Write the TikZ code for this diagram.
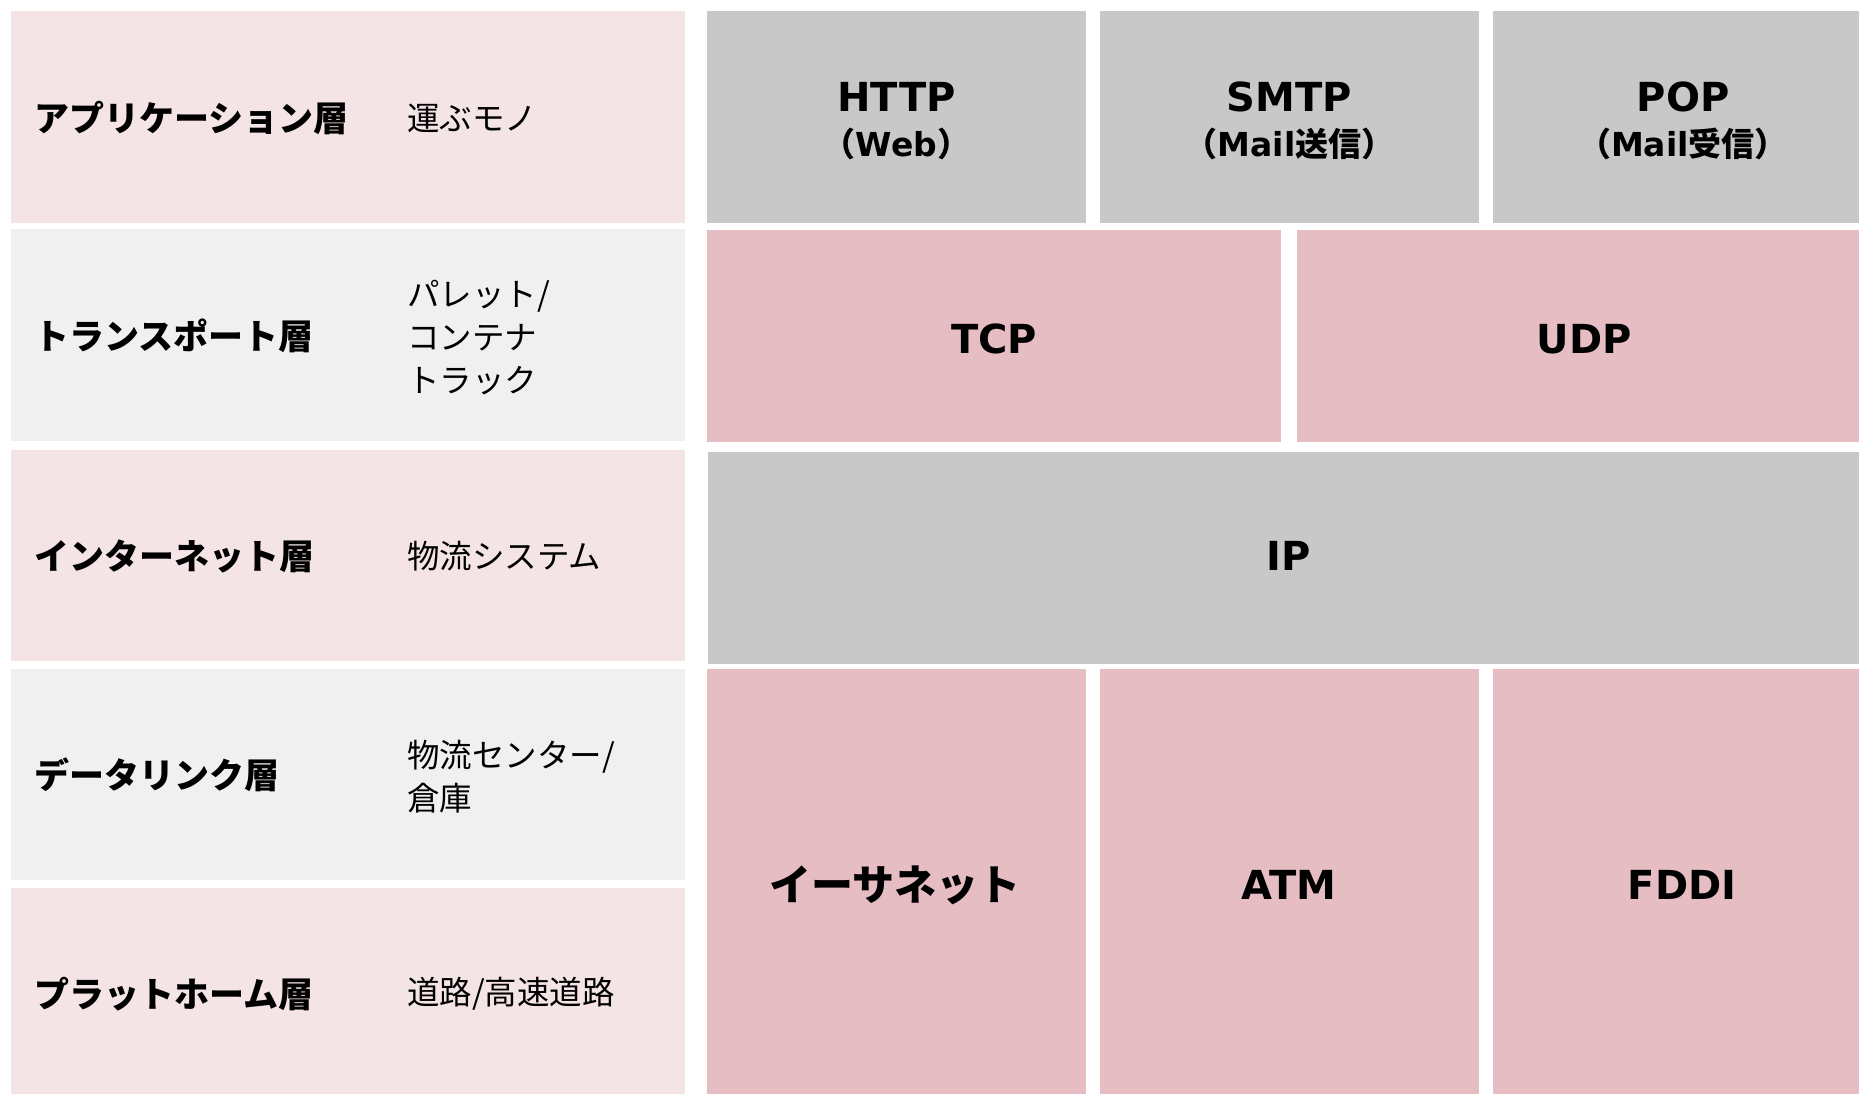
\documentclass[tikz,border=0pt]{standalone}
\usepackage{fontspec}
\setmainfont{DejaVu Sans}
\newfontfamily\jp{Noto Sans CJK JP}
\newfontfamily\lat{DejaVu Sans}
\definecolor{lpink}{RGB}{244,228,230}
\definecolor{lgrey}{RGB}{240,240,240}
\definecolor{rgrey}{RGB}{200,200,200}
\definecolor{rpink}{RGB}{229,189,194}
\begin{document}
\begin{tikzpicture}[x=1pt,y=-1pt,
  cell/.style={rectangle,draw=none,inner sep=0pt,outer sep=0pt,anchor=north west},
  lp/.style={cell,fill=lpink,minimum width=674pt},
  lg/.style={cell,fill=lgrey,minimum width=674pt},
  rg/.style={cell,fill=rgrey},
  rp/.style={cell,fill=rpink},
  lab/.style={anchor=west,inner sep=0pt,font=\jp\bfseries\fontsize{35}{40}\selectfont},
  desc/.style={anchor=west,inner sep=0pt,align=left,font=\jp\fontsize{32.5}{43}\selectfont},
  big/.style={inner sep=0pt,font=\lat\bfseries\fontsize{40}{48}\selectfont},
  bigjp/.style={inner sep=0pt,font=\jp\bfseries\fontsize{42}{48}\selectfont},
  sub/.style={inner sep=0pt,font=\bfseries\fontsize{33}{40}\selectfont}]
\useasboundingbox (0,0) rectangle (1859,1094);
\clip (0,0) rectangle (1859,1094);
% left column
\node[lp,minimum height=212pt] (L1) at (11,11) {};
\node[lg,minimum height=212pt] (L2) at (11,229) {};
\node[lp,minimum height=211pt] (L3) at (11,450) {};
\node[lg,minimum height=211pt] (L4) at (11,669) {};
\node[lp,minimum height=220pt] (L5) at (11,888) {};
\node[lab] (l1) at (34,118) {アプリケーション層};
\node[lab] (l2) at (34,336) {トランスポート層};
\node[lab] (l3) at (34,556) {インターネット層};
\node[lab] (l4) at (34,775) {データリンク層};
\node[lab] (l5) at (34,994) {プラットホーム層};
\node[desc] (d1) at (407,118) {運ぶモノ};
\node[desc] (d2) at (407,338) {パレット/\\コンテナ\\トラック};
\node[desc] (d3) at (407,556) {物流システム};
\node[desc] (d4) at (407,777) {物流センター/\\倉庫};
\node[desc] (d5) at (407,994) {道路/高速道路};
% right side
\node[rg,minimum width=379pt,minimum height=212pt] (http) at (707,11) {};
\node[rg,minimum width=379pt,minimum height=212pt] (smtp) at (1100,11) {};
\node[rg,minimum width=380pt,minimum height=212pt] (pop) at (1493,11) {};
\node[rp,minimum width=574pt,minimum height=212pt] (tcp) at (707,230) {};
\node[rp,minimum width=574pt,minimum height=212pt] (udp) at (1297,230) {};
\node[rg,minimum width=1163pt,minimum height=212pt] (ip) at (708,452) {};
\node[rp,minimum width=379pt,minimum height=440pt] (eth) at (707,669) {};
\node[rp,minimum width=379pt,minimum height=440pt] (atm) at (1100,669) {};
\node[rp,minimum width=380pt,minimum height=440pt] (fddi) at (1493,669) {};
\node[big] (httpT) at (896.5,97) {HTTP};
\node[sub] (httpS) at (896.5,144) {{\jp （}Web{\jp ）}};
\node[big] (smtpT) at (1289.5,97) {SMTP};
\node[sub] (smtpS) at (1289.5,144) {{\jp （}Mail{\jp 送信）}};
\node[big] (popT) at (1683,97) {POP};
\node[sub] (popS) at (1683,144) {{\jp （}Mail{\jp 受信）}};
\node[big] (tcpT) at (994,339) {TCP};
\node[big] (udpT) at (1584,339) {UDP};
\node[big] (ipT) at (1289,556) {IP};
\node[bigjp] (ethT) at (895,885) {イーサネット};
\node[big] (atmT) at (1289,885) {ATM};
\node[big] (fddiT) at (1682,885) {FDDI};
\end{tikzpicture}
\end{document}
